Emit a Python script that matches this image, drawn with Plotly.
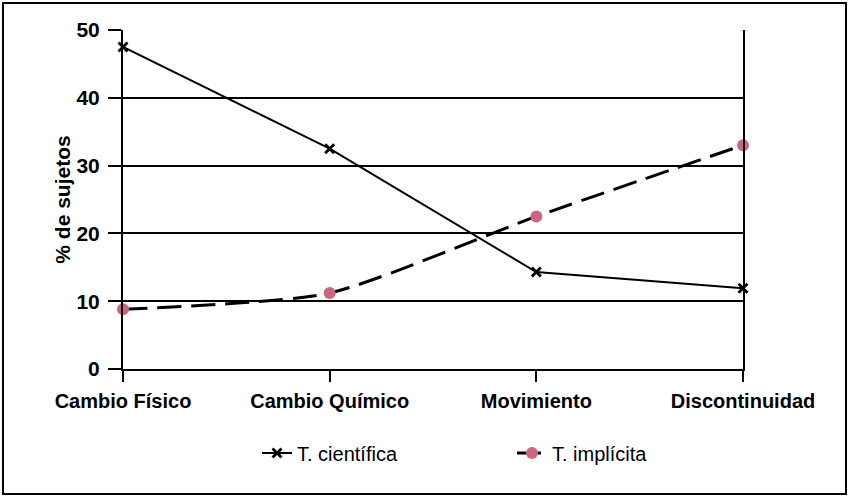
import plotly.graph_objects as go

categories = ["Cambio Físico", "Cambio Químico", "Movimiento", "Discontinuidad"]
cientifica = [47.5, 32.5, 14.3, 11.9]
implicita = [8.8, 11.2, 22.5, 33.0]
y_ticks = [0, 10, 20, 30, 40, 50]

fig = go.Figure()
fig.add_trace(go.Scatter(
    x=categories, y=cientifica, name="T. científica", mode="lines+markers",
    line=dict(color="black", width=2), cliponaxis=False,
    marker=dict(symbol="x-thin", size=9, color="black", line=dict(color="black", width=2.8)),
))
fig.add_trace(go.Scatter(
    x=categories, y=implicita, name="T. implícita", mode="lines+markers",
    line=dict(color="black", width=3, dash="24px,10px", shape="spline", smoothing=0.6),
    cliponaxis=False,
    marker=dict(symbol="circle", size=12, color="#CC6680"),
))

font_family = "Liberation Sans, Arial, sans-serif"
fig.update_layout(
    width=850, height=499,
    margin=dict(l=123, r=107, t=30, b=130),
    paper_bgcolor="white", plot_bgcolor="white",
    font=dict(family=font_family, color="black"),
    showlegend=True,
    legend=dict(
        orientation="h", x=(512 - 123) / 620, xanchor="center", y=-0.248, yanchor="middle",
        font=dict(size=20, family=font_family, color="black"),
        entrywidth=210, entrywidthmode="pixels",
        bgcolor="rgba(0,0,0,0)",
    ),
    xaxis=dict(
        type="category", range=[0, 3], showgrid=False, zeroline=False,
        showline=True, linecolor="black", linewidth=2,
        ticks="outside", ticklen=11, tickwidth=2, tickcolor="black",
        ticklabelstandoff=2,
        tickfont=dict(size=20, weight="bold"),
    ),
    yaxis=dict(
        range=[0, 50], tickvals=y_ticks,
        showgrid=True, gridcolor="black", gridwidth=2,
        zeroline=False, showline=True, linecolor="black", linewidth=2, mirror=True,
        ticks="outside", ticklen=13, tickwidth=2, tickcolor="black",
        ticklabelstandoff=4,
        tickfont=dict(size=21, weight="bold"),
        title=dict(text="% de sujetos", font=dict(size=21, weight="bold"), standoff=0),
    ),
    shapes=[dict(
        type="rect", xref="paper", yref="paper",
        x0=(3 - 123) / 620, x1=(846 - 123) / 620,
        y0=(369 - 494) / 339, y1=(369 - 3) / 339,
        line=dict(color="black", width=2), fillcolor="rgba(0,0,0,0)", layer="below",
    )],
)

fig.write_html("out.html", config={"displayModeBar": False},
               post_script="document.body.style.margin='0';")
